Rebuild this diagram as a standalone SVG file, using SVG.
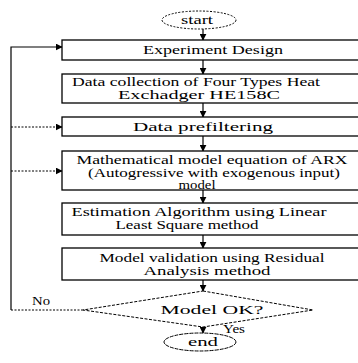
<svg xmlns="http://www.w3.org/2000/svg" width="358" height="363" viewBox="0 0 358 363">
<defs>
<marker id="ah" viewBox="0 0 10 10" refX="9" refY="5" markerWidth="7" markerHeight="7" markerUnits="userSpaceOnUse" orient="auto">
<path d="M0,0 L10,5 L0,10 z" fill="#000"/>
</marker>
<style>
.box{fill:#fff;stroke:#000;stroke-width:1.3}
.t{font-family:'Liberation Serif','DejaVu Serif',serif;font-size:11.5px;fill:#000;text-anchor:middle}
.c{fill:none;stroke:#000;stroke-width:1.2}
.d{fill:none;stroke:#000;stroke-width:1;stroke-dasharray:2,1.5}
</style>
</defs>
<rect width="358" height="363" fill="#fff"/>
<g id="connectors">
<line class="c" x1="203" y1="29" x2="203" y2="40" marker-end="url(#ah)"/>
<line class="c" x1="203" y1="60" x2="203" y2="74" marker-end="url(#ah)"/>
<line class="c" x1="203" y1="103" x2="203" y2="117" marker-end="url(#ah)"/>
<line class="c" x1="203" y1="136" x2="203" y2="151" marker-end="url(#ah)"/>
<line class="c" x1="203" y1="190" x2="203" y2="203" marker-end="url(#ah)"/>
<line class="c" x1="203" y1="235" x2="203" y2="248" marker-end="url(#ah)"/>
<line class="c" x1="203" y1="280" x2="203" y2="291" marker-end="url(#ah)"/>
<line class="c" x1="203" y1="327" x2="203" y2="333" marker-end="url(#ah)"/>
<polyline class="d" points="83,310 11,310"/>
<polyline class="c" points="11,310 11,47 62,47" marker-end="url(#ah)"/>
<line class="d" x1="11" y1="127" x2="62" y2="127" marker-end="url(#ah)"/>
<line class="d" x1="11" y1="171" x2="62" y2="171" marker-end="url(#ah)"/>
<text class="t" x="41" y="305" textLength="18" lengthAdjust="spacingAndGlyphs">No</text>
<text class="t" x="234" y="333" textLength="22" lengthAdjust="spacingAndGlyphs">Yes</text>
</g>
<g id="start">
<ellipse cx="199" cy="20" rx="37" ry="9" fill="#fff" stroke="#000" stroke-width="1" stroke-dasharray="2,1.5"/>
<text class="t" x="197" y="24" textLength="32" lengthAdjust="spacingAndGlyphs">start</text>
</g>
<g id="experiment-design">
<rect class="box" x="62" y="40" width="310" height="20"/>
<text class="t" x="213" y="54" textLength="140" lengthAdjust="spacingAndGlyphs">Experiment Design</text>
</g>
<g id="data-collection">
<rect class="box" x="62" y="74" width="310" height="29"/>
<text class="t" x="196" y="86" textLength="248" lengthAdjust="spacingAndGlyphs">Data collection of Four Types Heat</text>
<text class="t" x="199" y="99" textLength="162" lengthAdjust="spacingAndGlyphs">Exchadger HE158C</text>
</g>
<g id="data-prefiltering">
<rect class="box" x="62" y="117" width="310" height="19"/>
<text class="t" x="203" y="131" textLength="140" lengthAdjust="spacingAndGlyphs">Data prefiltering</text>
</g>
<g id="arx-model">
<rect class="box" x="62" y="151" width="310" height="39"/>
<text class="t" x="212" y="164" textLength="271" lengthAdjust="spacingAndGlyphs">Mathematical model equation of ARX</text>
<text class="t" x="214" y="177" textLength="252" lengthAdjust="spacingAndGlyphs">(Autogressive with exogenous input)</text>
<text class="t" x="197" y="189" textLength="37" lengthAdjust="spacingAndGlyphs">model</text>
</g>
<g id="estimation">
<rect class="box" x="62" y="203" width="310" height="32"/>
<text class="t" x="199" y="216" textLength="255" lengthAdjust="spacingAndGlyphs">Estimation Algorithm using Linear</text>
<text class="t" x="187" y="229" textLength="143" lengthAdjust="spacingAndGlyphs">Least Square method</text>
</g>
<g id="validation">
<rect class="box" x="62" y="248" width="310" height="32"/>
<text class="t" x="212" y="262" textLength="225" lengthAdjust="spacingAndGlyphs">Model validation using Residual</text>
<text class="t" x="207" y="275" textLength="127" lengthAdjust="spacingAndGlyphs">Analysis method</text>
</g>
<g id="decision">
<polygon points="203,291 313,310 203,327 83,310" fill="#fff" stroke="#000" stroke-width="1" stroke-dasharray="3,1.5"/>
<text class="t" x="212" y="314" textLength="103" lengthAdjust="spacingAndGlyphs">Model OK?</text>
</g>
<g id="end">
<ellipse cx="200" cy="342" rx="36" ry="9" fill="#fff" stroke="#000" stroke-width="1" stroke-dasharray="4,1"/>
<text class="t" x="203" y="346" textLength="30" lengthAdjust="spacingAndGlyphs">end</text>
</g>
</svg>
